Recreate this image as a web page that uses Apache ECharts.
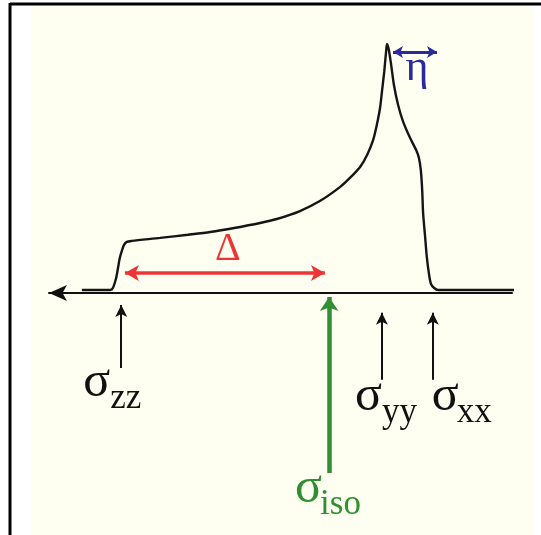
<!DOCTYPE html>
<html>
<head>
<meta charset="utf-8">
<script src="https://cdn.jsdelivr.net/npm/echarts@6/dist/echarts.min.js"></script>
<style>
  html, body { margin: 0; padding: 0; background: #ffffff; }
  #chart { width: 541px; height: 535px; }
</style>
</head>
<body>
<div id="chart"></div>
<script>
// Static CSA powder pattern: chemical shift (arbitrary units) and intensity
const shift = [7.1, 11.0, 13.2, 13.8, 14.5, 14.9, 15.3, 15.8, 16.2, 16.8, 17.9, 24.0, 30.0, 34.8, 40.0,
  45.6, 49.2, 54.2, 58.5, 62.9, 65.0, 67.2, 68.7, 70.0, 70.8, 71.5, 71.9, 72.4, 72.8, 73.0, 73.4,
  73.9, 74.5, 75.4, 76.5, 78.0, 79.3, 79.9, 80.3, 80.6, 80.8, 81.2, 81.6, 82.1, 82.5, 83.2, 84.0,
  88.8, 102.4];
const intensity = [0.012, 0.012, 0.012, 0.020, 0.060, 0.100, 0.141, 0.173, 0.193, 0.205, 0.209, 0.221,
  0.234, 0.245, 0.261, 0.281, 0.297, 0.329, 0.369, 0.426, 0.462, 0.506, 0.554, 0.614, 0.675, 0.743,
  0.807, 0.888, 0.968, 1.000, 0.976, 0.916, 0.835, 0.755, 0.687, 0.622, 0.574, 0.542, 0.494, 0.414,
  0.321, 0.233, 0.145, 0.072, 0.036, 0.020, 0.012, 0.012, 0.012];

// Principal components of the shielding tensor
const tensorNames = ['zz', 'yy', 'xx'];
const tensorShifts = [15.6, 71.9, 82.9];
const isoName = 'iso';
const isoShift = 60.5;

// Span annotations: anisotropy (Δ) and asymmetry (η)
const deltaSpan = [16.4, 59.6];
const deltaLevel = 0.080;
const etaSpan = [74.3, 83.8];
const etaLevel = 0.968;

const SERIF = '"Liberation Serif", "DejaVu Serif", serif';
const BLACK = '#111111';
const GREEN = '#2f8f32';
const RED = '#ee3535';
const BLUE = '#2a2a9c';

const spectrum = shift.map((x, i) => [x, intensity[i]]);

// vertical extent (intensity units) of the pointer arrows below the axis
const tensorArrowY = [[-0.301, -0.048], [-0.349, -0.080], [-0.349, -0.080]];
const isoArrowY = [-0.723, -0.016];

const chart = echarts.init(document.getElementById('chart'), null, { renderer: 'canvas' });

const baseOption = {
  animation: false,
  backgroundColor: '#ffffff',
  grid: { left: 49, right: 29, top: 44, bottom: 18 },
  xAxis: {
    type: 'value', min: 0, max: 100,
    axisLine: {
      show: true, onZero: true,
      symbol: ['arrow', 'none'], symbolSize: [12, 18],
      lineStyle: { color: BLACK, width: 2 }
    },
    axisTick: { show: false }, axisLabel: { show: false }, splitLine: { show: false }
  },
  yAxis: {
    type: 'value', min: -0.9, max: 1.0, show: false,
    splitLine: { show: false }
  },
  series: [
    {
      type: 'line', data: spectrum, showSymbol: false, clip: false,
      smooth: 0.25,
      lineStyle: { color: '#151515', width: 2.4 }, z: 5, silent: true
    },
    {
      type: 'line', data: [], silent: true, z: 6,
      markLine: {
        silent: true, animation: false, label: { show: false },
        symbol: ['none', 'arrow'], symbolSize: [9, 12],
        lineStyle: { color: BLACK, width: 2, type: 'solid' },
        emphasis: { disabled: true },
        data: tensorShifts.map((s, i) => [
          { coord: [s, tensorArrowY[i][0]] }, { coord: [s, tensorArrowY[i][1]] }
        ])
      }
    },
    {
      type: 'line', data: [], silent: true, z: 6,
      markLine: {
        silent: true, animation: false, label: { show: false },
        symbol: ['none', 'arrow'], symbolSize: [14, 14],
        lineStyle: { color: GREEN, width: 4.5, type: 'solid' },
        emphasis: { disabled: true },
        data: [[{ coord: [isoShift, isoArrowY[0]] }, { coord: [isoShift, isoArrowY[1]] }]]
      }
    },
    {
      type: 'line', data: [], silent: true, z: 6,
      markLine: {
        silent: true, animation: false, label: { show: false },
        symbol: ['arrow', 'arrow'], symbolSize: [12, 14],
        lineStyle: { color: RED, width: 3.5, type: 'solid' },
        emphasis: { disabled: true },
        data: [[{ coord: [deltaSpan[0], deltaLevel] }, { coord: [deltaSpan[1], deltaLevel] }]]
      }
    },
    {
      type: 'line', data: [], silent: true, z: 6,
      markLine: {
        silent: true, animation: false, label: { show: false },
        symbol: ['arrow', 'arrow'], symbolSize: [9, 10],
        lineStyle: { color: BLUE, width: 3, type: 'solid' },
        emphasis: { disabled: true },
        data: [[{ coord: [etaSpan[0], etaLevel] }, { coord: [etaSpan[1], etaLevel] }]]
      }
    }
  ]
};

chart.setOption(baseOption);

// Text labels placed from the axis scales
const toPx = (pt) => chart.convertToPixel({ xAxisIndex: 0, yAxisIndex: 0 }, pt);
const zeroY = toPx([0, 0])[1];

function txt(str, x, baseline, size, color, align) {
  return {
    type: 'text', z: 50, silent: true,
    x: x, y: baseline - 0.34 * size,
    style: {
      text: str, font: size + 'px ' + SERIF, fill: color,
      align: align || 'left', verticalAlign: 'middle',
      textAlign: align || 'left', textVerticalAlign: 'middle'
    }
  };
}

// label offsets (px): sigma left edge, subscript left edge, baselines below the axis
const tensorLabelOffsets = [
  { sig: -38, sub: -11, base: 107 },
  { sig: -27, sub: 0, base: 121 },
  { sig: -1, sub: 24, base: 121 }
];

const labels = [];
tensorShifts.forEach((s, i) => {
  const px = toPx([s, 0])[0];
  const o = tensorLabelOffsets[i];
  labels.push(txt('σ', px + o.sig, zeroY + o.base, 50, BLACK));
  labels.push(txt(tensorNames[i], px + o.sub, zeroY + o.base + 11, 35, BLACK));
});
{
  const px = toPx([isoShift, 0])[0];
  labels.push(txt('σ', px - 34, zeroY + 213, 50, GREEN));
  labels.push(txt(isoName, px - 9, zeroY + 224, 35, GREEN));
}
{
  const p0 = toPx([deltaSpan[0], deltaLevel]);
  const p1 = toPx([deltaSpan[1], deltaLevel]);
  labels.push(txt('Δ', (p0[0] + p1[0]) / 2 + 3, p0[1] - 10, 40, RED, 'center'));
}
{
  const p0 = toPx([etaSpan[0], etaLevel]);
  const p1 = toPx([etaSpan[1], etaLevel]);
  labels.push(txt('η', (p0[0] + p1[0]) / 2 + 2, p0[1] + 31, 44, BLUE, 'center'));
}

chart.setOption({
  graphic: [
    // page panel and frame
    { type: 'rect', z: -10, silent: true, shape: { x: 31, y: 6, width: 503, height: 529 },
      style: { fill: '#fefef1' } },
    { type: 'line', z: 60, silent: true, shape: { x1: 10, y1: 4, x2: 541, y2: 4 },
      style: { stroke: '#000000', lineWidth: 3 } },
    { type: 'line', z: 60, silent: true, shape: { x1: 10, y1: 3, x2: 10, y2: 535 },
      style: { stroke: '#000000', lineWidth: 3 } }
  ].concat(labels)
});
</script>
</body>
</html>
